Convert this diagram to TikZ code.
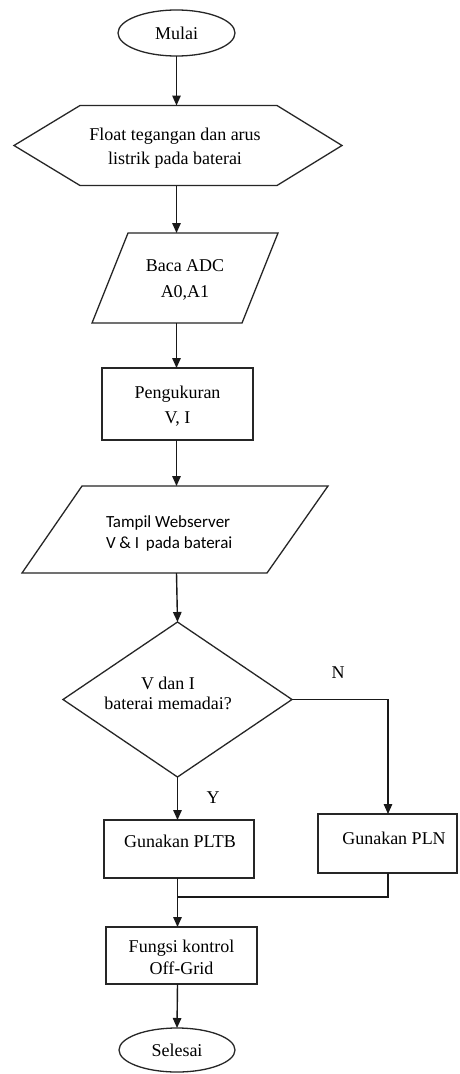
\documentclass[tikz,border=0pt]{standalone}
\usepackage{fontspec}
\setmainfont{Liberation Serif}
\newfontfamily\tnr{Liberation Serif}
\newfontfamily\calfont{Carlito}
\usetikzlibrary{arrows.meta,shapes.geometric}
\begin{document}
\begin{tikzpicture}[x=1pt,y=-1pt,
  every node/.style={font=\tnr\fontsize{18}{24}\selectfont, inner sep=0pt, outer sep=0pt},
  shp/.style={draw=black!85, line width=1.3pt},
  arr/.style={draw=black!90, line width=1.4pt, -{Triangle[length=10pt,width=8.5pt]}},
  ln/.style={draw=black!90, line width=1.4pt},
  txt/.style={align=center},
]
\useasboundingbox[fill=white] (0,0) rectangle (460,1074);

% Mulai
\node[shp, ellipse, minimum width=117pt, minimum height=46pt] (mulai) at (176.5,33) {Mulai};

% Hexagon
\node[minimum width=328pt, minimum height=80pt] (hex) at (178,145.5) {};
\draw[shp] (hex.west) -- (80,105.5) -- (277,105.5) -- (hex.east) -- (277,185.5) -- (80,185.5) -- cycle;
\node[txt, font=\tnr\fontsize{18}{24}\selectfont] (hext) at (175,148) {Float tegangan dan arus\\listrik pada baterai};

% Baca ADC parallelogram
\node[minimum width=186pt, minimum height=90pt] (baca) at (185,278) {};
\draw[shp] (128,233) -- (278,233) -- (242,323) -- (92,323) -- cycle;
\node[txt, font=\tnr\fontsize{18}{26}\selectfont] (bacat) at (185,280) {Baca ADC\\A0,A1};

% Pengukuran
\node[shp, minimum width=151pt, minimum height=72pt] (ukur) at (177.5,404) {};
\node[txt, font=\tnr\fontsize{18}{25}\selectfont] (ukurt) at (177.5,406) {Pengukuran\\V, I};

% Tampil parallelogram
\node[minimum width=306pt, minimum height=87pt] (tampil) at (175,529.5) {};
\draw[shp] (82,486) -- (328,486) -- (267,573) -- (22,573) -- cycle;
\node[align=left, anchor=west, font=\calfont\fontsize{17}{21}\selectfont] (tampilt) at (106,533) {Tampil Webserver\\V \& I\, pada baterai};

% Decision
\node[shp, diamond, minimum width=229pt, minimum height=155pt] (dec) at (177.5,699.5) {};
\node[txt, font=\tnr\fontsize{18}{20}\selectfont] (dect) at (168,693) {V dan I\\baterai memadai?};

% PLTB
\node[shp, minimum width=150pt, minimum height=58pt] (pltb) at (179,849) {};
\node (pltbt) at (180,841) {Gunakan PLTB};

% PLN
\node[shp, minimum width=139pt, minimum height=59pt] (pln) at (387.5,843.5) {};
\node (plnt) at (394,838) {Gunakan PLN};

% Fungsi kontrol
\node[shp, minimum width=151pt, minimum height=57pt] (fungsi) at (181.5,955.5) {};
\node[txt, font=\tnr\fontsize{18}{22}\selectfont] (fungsit) at (181.5,957) {Fungsi kontrol\\Off-Grid};

% Selesai
\node[shp, ellipse, minimum width=116pt, minimum height=44pt] (selesai) at (177,1050) {Selesai};

% Labels
\node (nlab) at (338,673) {N};
\node (ylab) at (213,798) {Y};

% helper coordinates
\coordinate (nx) at (388,699.5);
\coordinate (mj) at (177.5,897);

% Connectors
\draw[arr] (mulai.south) -- (mulai.south |- hex.north);
\draw[arr] (mulai.south |- hex.south) -- (mulai.south |- baca.north);
\draw[arr] (mulai.south |- baca.south) -- (mulai.south |- ukur.north);
\draw[arr] (mulai.south |- ukur.south) -- (mulai.south |- tampil.north);
\draw[arr] (mulai.south |- tampil.south) -- (dec.north);
\draw[arr] (dec.south) -- (dec.south |- pltb.north);
\draw[arr] (dec.east) -- (nx) -- (nx |- pln.north);
\draw[ln] (nx |- pln.south) -- (nx |- mj) -- (mj);
\draw[arr] (dec.south |- pltb.south) -- (dec.south |- fungsi.north);
\draw[arr] (dec.south |- fungsi.south) -- (selesai.north);
\end{tikzpicture}
\end{document}
